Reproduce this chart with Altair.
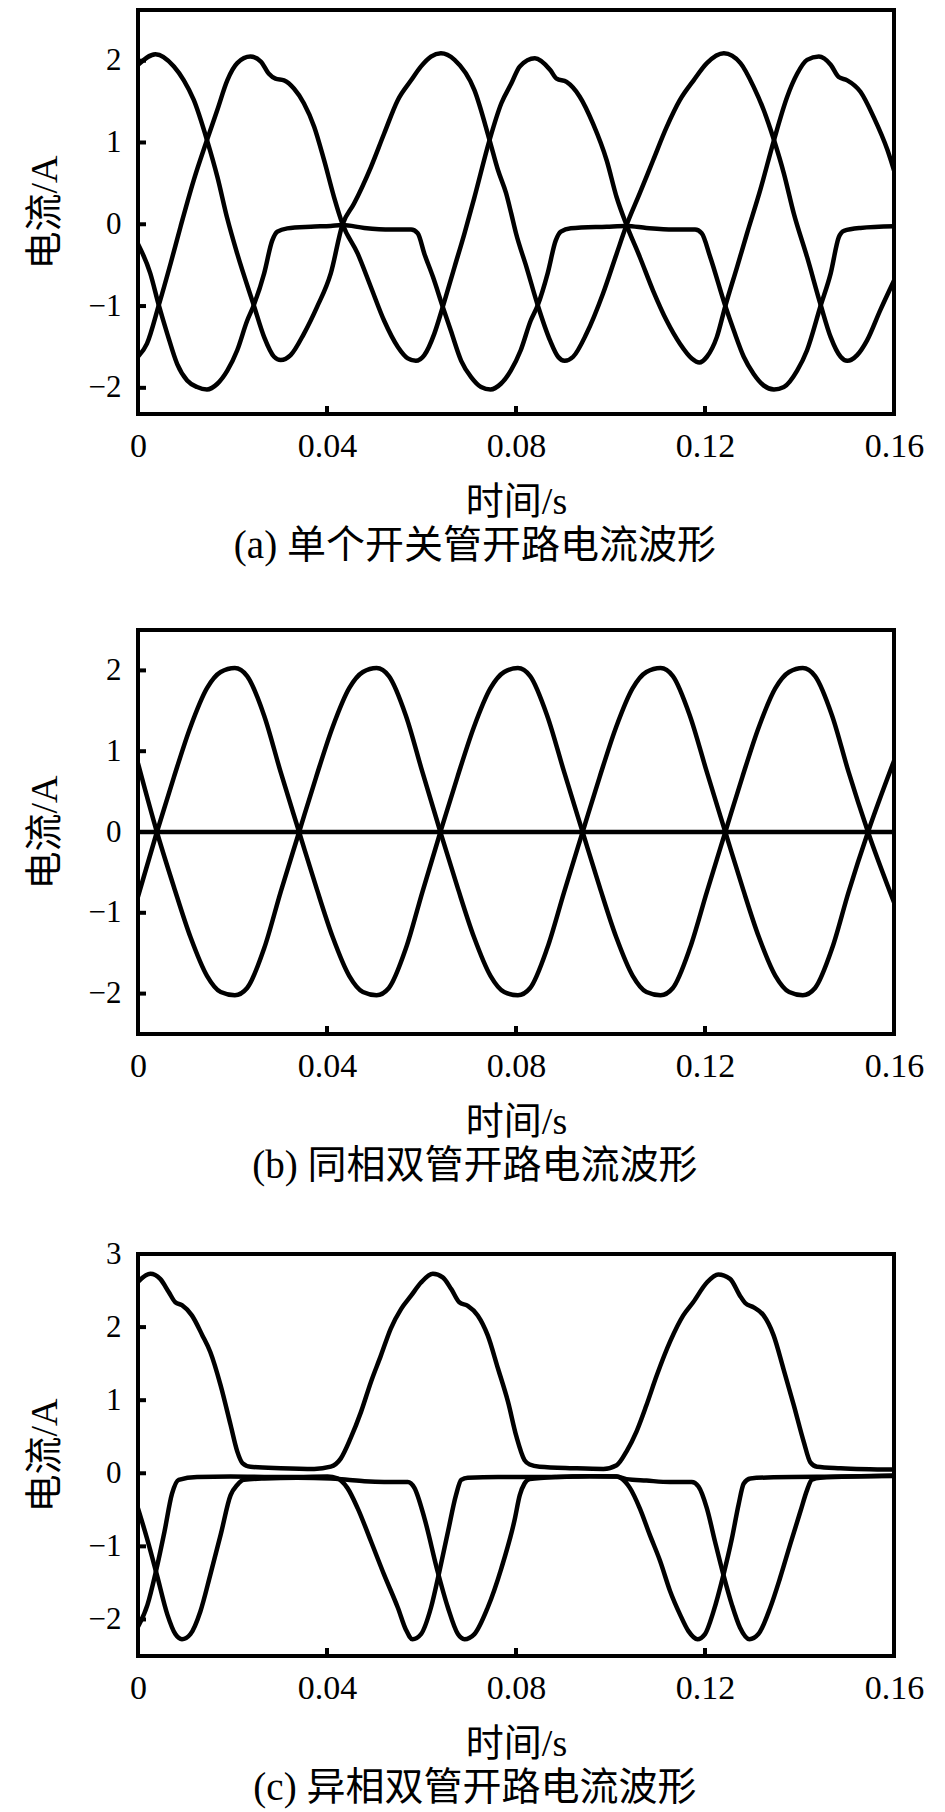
import altair as alt
import pandas as pd

# ---------------- panel (a): single switch open ----------------
a_A_t = [0, 0.0026, 0.0044, 0.0062, 0.0083, 0.0104, 0.0125, 0.0146, 0.0168, 0.0189, 0.021, 0.0231, 0.0245,
         0.0267, 0.0284, 0.0295, 0.0316, 0.0366, 0.0408, 0.0433, 0.0479, 0.0535, 0.0578, 0.0592, 0.0606, 0.0624,
         0.0645, 0.0662, 0.0684, 0.0705, 0.0726, 0.0746, 0.0768, 0.0789, 0.081, 0.0831, 0.0846, 0.0867, 0.0884,
         0.0895, 0.0916, 0.0992, 0.1034, 0.1076, 0.1133, 0.1179, 0.1193, 0.1211, 0.1243, 0.1261, 0.1282, 0.1303,
         0.1324, 0.1346, 0.1367, 0.1395, 0.1416, 0.1445, 0.1466, 0.1483, 0.1494, 0.1529, 0.16]
a_A_v = [-0.24, -0.6, -0.99, -1.34, -1.71, -1.91, -1.99, -2.02, -1.95, -1.79, -1.54, -1.18, -0.99,
         -0.6, -0.2, -0.09, -0.05, -0.03, -0.02, -0.01, -0.045, -0.065, -0.065, -0.11, -0.36, -0.64,
         -1.01, -1.3, -1.67, -1.87, -1.99, -2.02, -1.95, -1.79, -1.54, -1.18, -0.99, -0.6, -0.2,
         -0.09, -0.05, -0.03, -0.02, -0.045, -0.065, -0.065, -0.11, -0.4, -1.0, -1.3, -1.62, -1.83,
         -1.97, -2.02, -1.99, -1.79, -1.54, -0.99, -0.6, -0.16, -0.08, -0.045, -0.025]

a_B_t = [0, 0.0037, 0.0076, 0.0097, 0.0118, 0.0146, 0.0168, 0.0189, 0.021, 0.0245, 0.0267, 0.0288, 0.0302,
         0.0323, 0.0351, 0.0379, 0.0408, 0.0433, 0.0457, 0.0493, 0.0521, 0.055, 0.0578, 0.0599, 0.062, 0.0641,
         0.067, 0.0712, 0.0744, 0.0762, 0.0779, 0.079, 0.08, 0.0822, 0.0846, 0.0872, 0.0889, 0.0903, 0.0921,
         0.0949, 0.0984, 0.1013, 0.1034, 0.1062, 0.109, 0.1119, 0.1147, 0.1176, 0.1204, 0.124, 0.1275, 0.1303,
         0.1324, 0.1346, 0.1367, 0.1388, 0.1416, 0.1445, 0.1466, 0.1487, 0.1501, 0.1522, 0.1543, 0.1571, 0.16]
a_B_v = [1.95, 2.08, 1.93, 1.76, 1.52, 1.03, 0.58, 0.07, -0.36, -0.99, -1.38, -1.62, -1.66,
         -1.6, -1.34, -1.01, -0.6, 0.0, 0.25, 0.7, 1.11, 1.52, 1.76, 1.93, 2.05, 2.09,
         2.01, 1.64, 1.03, 0.66, 0.38, 0.13, -0.11, -0.52, -0.99, -1.42, -1.62, -1.67, -1.62,
         -1.34, -0.85, -0.36, -0.01, 0.38, 0.78, 1.19, 1.52, 1.76, 1.97, 2.09, 1.97, 1.68,
         1.4, 1.03, 0.62, 0.13, -0.4, -0.99, -1.38, -1.62, -1.67, -1.6, -1.42, -1.05, -0.69]

a_C_t = [0, 0.0019, 0.0044, 0.0069, 0.009, 0.0118, 0.0146, 0.0168, 0.0189, 0.021, 0.0238, 0.026, 0.0277,
         0.0291, 0.0309, 0.033, 0.0351, 0.0373, 0.0394, 0.0415, 0.0433, 0.0465, 0.0493, 0.0521, 0.055, 0.0571,
         0.0588, 0.0606, 0.0627, 0.0645, 0.067, 0.0691, 0.0712, 0.0744, 0.0769, 0.079, 0.0808, 0.084, 0.0872,
         0.0886, 0.0907, 0.0935, 0.0963, 0.0992, 0.1013, 0.1034, 0.1062, 0.109, 0.1119, 0.1147, 0.1172, 0.1188,
         0.1204, 0.1225, 0.1243, 0.1268, 0.1289, 0.1317, 0.1346, 0.1374, 0.1395, 0.1416, 0.1441, 0.1466, 0.1483,
         0.1501, 0.1529, 0.1557, 0.1586, 0.16]
a_C_v = [-1.62, -1.46, -0.99, -0.48, -0.03, 0.54, 1.03, 1.4, 1.76, 1.97, 2.05, 1.99, 1.84,
         1.78, 1.76, 1.66, 1.48, 1.19, 0.78, 0.33, 0.0, -0.36, -0.77, -1.18, -1.5, -1.64,
         -1.67, -1.6, -1.34, -1.01, -0.52, -0.11, 0.33, 1.03, 1.48, 1.72, 1.93, 2.03, 1.89,
         1.78, 1.74, 1.56, 1.23, 0.78, 0.33, -0.01, -0.4, -0.81, -1.18, -1.46, -1.64, -1.69,
         -1.62, -1.38, -1.0, -0.52, -0.11, 0.42, 1.03, 1.56, 1.84, 2.01, 2.05, 1.95, 1.8,
         1.76, 1.62, 1.31, 0.91, 0.66]

# ---------------- panel (b): same-phase double switch open ----------------
b_U_t = [0, 0.004, 0.0076, 0.0111, 0.0146, 0.0175, 0.0205, 0.0231, 0.0267, 0.0302, 0.0341, 0.0377, 0.0412,
         0.0447, 0.0476, 0.0505, 0.0531, 0.0567, 0.0602, 0.064, 0.0676, 0.0711, 0.0746, 0.0775, 0.0804, 0.083,
         0.0866, 0.0902, 0.0941, 0.0977, 0.1012, 0.1047, 0.1076, 0.1106, 0.1132, 0.1168, 0.1204, 0.1243, 0.1279,
         0.1314, 0.1349, 0.1378, 0.1407, 0.1433, 0.1469, 0.1504, 0.1545, 0.16]
b_U_v = [-0.8, 0.0, 0.68, 1.3, 1.78, 1.98, 2.03, 1.93, 1.44, 0.74, 0.0, -0.68, -1.3,
         -1.78, -1.98, -2.02, -1.93, -1.44, -0.74, 0.0, 0.68, 1.3, 1.78, 1.98, 2.03, 1.93,
         1.44, 0.74, 0.0, -0.68, -1.3, -1.78, -1.98, -2.02, -1.93, -1.44, -0.74, 0.0, 0.68,
         1.3, 1.78, 1.98, 2.03, 1.93, 1.44, 0.74, 0.0, -0.87]
b_D_t = b_U_t
b_D_v = [0.85, 0.0, -0.68, -1.3, -1.78, -1.98, -2.02, -1.93, -1.44, -0.74, 0.0, 0.68, 1.3,
         1.78, 1.98, 2.03, 1.93, 1.44, 0.74, 0.0, -0.68, -1.3, -1.78, -1.98, -2.02, -1.93,
         -1.44, -0.74, 0.0, 0.68, 1.3, 1.78, 1.98, 2.03, 1.93, 1.44, 0.74, 0.0, -0.68,
         -1.3, -1.78, -1.98, -2.02, -1.93, -1.44, -0.74, 0.0, 0.88]
b_Z_t = [0, 0.16]
b_Z_v = [0.0, 0.0]

# ---------------- panel (c): different-phase double switch open ----------------
c_P_t = [0, 0.0026, 0.0047, 0.0065, 0.0079, 0.0093, 0.0114, 0.0136, 0.0153, 0.0175, 0.0196, 0.021, 0.0221,
         0.0238, 0.0302, 0.0373, 0.0408, 0.0429, 0.045, 0.0472, 0.0493, 0.0514, 0.0535, 0.0557, 0.0578, 0.0599,
         0.0624, 0.0645, 0.0663, 0.068, 0.0698, 0.0719, 0.074, 0.0762, 0.0783, 0.0801, 0.0818, 0.0829, 0.085,
         0.0921, 0.0985, 0.1013, 0.1034, 0.1055, 0.1076, 0.1098, 0.1126, 0.1154, 0.1175, 0.1204, 0.1228, 0.1253,
         0.1274, 0.1285, 0.1303, 0.1324, 0.1345, 0.1366, 0.1388, 0.1409, 0.1423, 0.1437, 0.1487, 0.16]
c_P_v = [2.62, 2.73, 2.66, 2.48, 2.34, 2.3, 2.16, 1.89, 1.66, 1.2, 0.66, 0.3, 0.14,
         0.09, 0.07, 0.06, 0.09, 0.2, 0.48, 0.84, 1.25, 1.61, 1.98, 2.25, 2.43, 2.61,
         2.73, 2.68, 2.52, 2.34, 2.29, 2.16, 1.89, 1.43, 0.98, 0.5, 0.18, 0.12, 0.09,
         0.07, 0.06, 0.11, 0.3, 0.57, 0.93, 1.34, 1.8, 2.16, 2.34, 2.61, 2.72, 2.66,
         2.43, 2.33, 2.27, 2.16, 1.89, 1.43, 0.93, 0.43, 0.15, 0.09, 0.07, 0.05]

c_Q_t = [0, 0.002, 0.0038, 0.0056, 0.0072, 0.0086, 0.0125, 0.0196, 0.0267, 0.0337, 0.0401, 0.0422, 0.0443,
         0.0465, 0.0493, 0.0521, 0.055, 0.0567, 0.0581, 0.0599, 0.062, 0.0638, 0.0656, 0.0673, 0.0684, 0.0698,
         0.0762, 0.0885, 0.0956, 0.1013, 0.1023, 0.1041, 0.1062, 0.1083, 0.1105, 0.1126, 0.1147, 0.1165, 0.1184,
         0.12, 0.1218, 0.1239, 0.1257, 0.1271, 0.1282, 0.1296, 0.1345, 0.1487, 0.16]
c_Q_v = [-2.1, -1.8, -1.34, -0.8, -0.28, -0.09, -0.05, -0.045, -0.05, -0.05, -0.045, -0.07, -0.2,
         -0.48, -0.93, -1.39, -1.84, -2.14, -2.27, -2.2, -1.84, -1.34, -0.8, -0.3, -0.09, -0.06,
         -0.05, -0.05, -0.04, -0.045, -0.07, -0.2, -0.48, -0.84, -1.2, -1.61, -1.93, -2.16, -2.27,
         -2.2, -1.89, -1.39, -0.89, -0.43, -0.14, -0.07, -0.055, -0.045, -0.036]

c_R_t = [0, 0.0019, 0.004, 0.0062, 0.0079, 0.0093, 0.0111, 0.0132, 0.0153, 0.0175, 0.0196, 0.021, 0.0224,
         0.0267, 0.0337, 0.0408, 0.0443, 0.0479, 0.0521, 0.0571, 0.0585, 0.0606, 0.0634, 0.0656, 0.0677, 0.0691,
         0.0712, 0.074, 0.0769, 0.0797, 0.0808, 0.0818, 0.0829, 0.0885, 0.0956, 0.1013, 0.1034, 0.1076, 0.1126,
         0.1172, 0.1186, 0.1204, 0.1221, 0.1239, 0.1257, 0.1274, 0.1294, 0.1313, 0.1338, 0.1359, 0.138, 0.1402,
         0.1416, 0.1426, 0.1444, 0.16]
c_R_v = [-0.48, -0.89, -1.39, -1.93, -2.2, -2.27, -2.2, -1.89, -1.39, -0.84, -0.3, -0.16, -0.09,
         -0.07, -0.06, -0.07, -0.09, -0.11, -0.12, -0.12, -0.2, -0.61, -1.34, -1.84, -2.2, -2.27,
         -2.2, -1.84, -1.3, -0.64, -0.3, -0.14, -0.08, -0.05, -0.04, -0.045, -0.08, -0.1, -0.12,
         -0.12, -0.18, -0.48, -0.93, -1.39, -1.8, -2.11, -2.27, -2.2, -1.84, -1.43, -0.98, -0.52,
         -0.23, -0.09, -0.06, -0.03]

x_ticks = [0, 0.04, 0.08, 0.12, 0.16]
x_inner_ticks = [0.04, 0.08, 0.12]
captions = ["(a) 单个开关管开路电流波形", "(b) 同相双管开路电流波形", "(c) 异相双管开路电流波形"]

LATIN = "'Liberation Serif', 'Times New Roman', Tinos, 'DejaVu Serif', serif"
MIXED = "'Liberation Serif', 'Times New Roman', Tinos, 'Noto Sans CJK SC', serif"
W = 756


def curves(pairs):
    frames = []
    for name, (ts, vs) in pairs.items():
        frames.append(pd.DataFrame({"t": ts, "v": vs, "s": name}))
    return pd.concat(frames, ignore_index=True)


def panel(df, ydom, yticks, h, caption):
    xs = alt.Scale(domain=[0, 0.16], nice=False, zero=False)
    ys = alt.Scale(domain=ydom, nice=False, zero=False)
    lines = alt.Chart(df).mark_line(
        color="black", strokeWidth=4.5, interpolate="monotone", clip=True,
        strokeCap="round", strokeJoin="round"
    ).encode(
        x=alt.X("t:Q", scale=xs, title="时间/s",
                axis=alt.Axis(values=x_ticks,
                              labelExpr="datum.value == 0 ? '0' : format(datum.value, '.2f')",
                              labelFontSize=34, labelPadding=15, titleFontSize=38,
                              titlePadding=20, labelFlush=False)),
        y=alt.Y("v:Q", scale=ys, title="电流/A",
                axis=alt.Axis(values=yticks, format="d", labelFontSize=31, labelPadding=17,
                              titleFontSize=38, titlePadding=24)),
        detail="s:N",
    )
    xt = alt.Chart(pd.DataFrame({"t": x_inner_ticks})).mark_rule(
        color="black", strokeWidth=4
    ).encode(x=alt.X("t:Q", scale=xs), y=alt.value(h), y2=alt.value(h - 8))
    yt = alt.Chart(pd.DataFrame({"v": yticks})).mark_rule(
        color="black", strokeWidth=4
    ).encode(y=alt.Y("v:Q", scale=ys), x=alt.value(0), x2=alt.value(8))
    return alt.layer(lines, xt, yt).properties(
        width=W, height=h,
        title=alt.TitleParams(caption, orient="bottom", anchor="middle", frame="bounds",
                              fontSize=39, font=MIXED, fontWeight="normal", color="black",
                              offset=6),
    )


dfa = curves({"A": (a_A_t, a_A_v), "B": (a_B_t, a_B_v), "C": (a_C_t, a_C_v)})
dfb = curves({"U": (b_U_t, b_U_v), "D": (b_D_t, b_D_v), "Z": (b_Z_t, b_Z_v)})
dfc = curves({"P": (c_P_t, c_P_v), "Q": (c_Q_t, c_Q_v), "R": (c_R_t, c_R_v)})

pa = panel(dfa, [-2.32, 2.62], [-2, -1, 0, 1, 2], 404, captions[0])
pb = panel(dfb, [-2.5, 2.5], [-2, -1, 0, 1, 2], 404, captions[1])
pc = panel(dfc, [-2.5, 3], [-2, -1, 0, 1, 2, 3], 402, captions[2])

top_pair = alt.vconcat(pa, pb, spacing=60)
chart = alt.vconcat(top_pair, pc, spacing=48).configure_view(
    stroke="black", strokeWidth=4
).configure_axis(
    grid=False, domain=False, ticks=False, labelFont=LATIN, titleFont=MIXED,
    labelColor="black", titleColor="black", titleFontWeight="normal"
).properties(padding={"left": 16, "top": 0, "right": 5, "bottom": 0})

chart.save("out.html", embed_options={"renderer": "svg", "actions": False})
